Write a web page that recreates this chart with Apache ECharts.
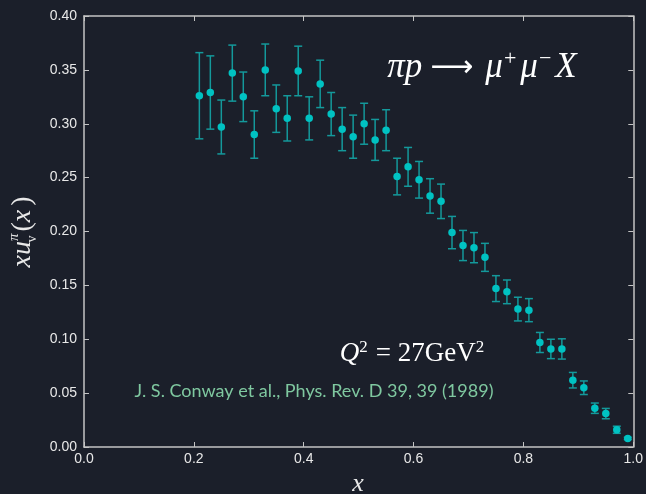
<!DOCTYPE html>
<html>
<head>
<meta charset="utf-8">
<script src="https://cdn.jsdelivr.net/npm/echarts@6/dist/echarts.min.js"></script>
<style>
html,body{margin:0;padding:0;background:#1b1f2a;}
#c{width:646px;height:494px;}
</style>
</head>
<body>
<div id="c"></div>
<script>
var xValues = [0.21,0.23,0.25,0.27,0.29,0.31,0.33,0.35,0.37,0.39,0.41,0.43,0.45,0.47,0.49,0.51,0.53,0.55,0.57,0.59,0.61,0.63,0.65,0.67,0.69,0.71,0.73,0.75,0.77,0.79,0.81,0.83,0.85,0.87,0.89,0.91,0.93,0.95,0.97,0.99];
var yValues = [0.326,0.329,0.297,0.347,0.325,0.290,0.350,0.314,0.305,0.349,0.305,0.337,0.309,0.295,0.288,0.300,0.285,0.294,0.251,0.260,0.248,0.233,0.228,0.199,0.187,0.185,0.176,0.147,0.144,0.128,0.127,0.097,0.091,0.091,0.062,0.055,0.036,0.031,0.016,0.008];
var yErrors = [0.040,0.034,0.025,0.026,0.023,0.022,0.024,0.022,0.021,0.023,0.020,0.022,0.020,0.020,0.020,0.019,0.019,0.019,0.017,0.018,0.017,0.016,0.016,0.015,0.014,0.014,0.013,0.012,0.011,0.011,0.0107,0.0093,0.009,0.0094,0.0072,0.0063,0.0048,0.0048,0.0033,0.001];
var xTicks = [0.0,0.2,0.4,0.6,0.8,1.0];
var yTicks = [0.00,0.05,0.10,0.15,0.20,0.25,0.30,0.35,0.40];

var points = xValues.map(function(x,i){return [x,yValues[i]];});
var errData = xValues.map(function(x,i){return [x,yValues[i]-yErrors[i],yValues[i]+yErrors[i]];});

var chart = echarts.init(document.getElementById('c'));
var axisCol = '#c4c4c4';
var labelCol = '#e8e8e8';
var serif = '"Liberation Serif", "DejaVu Serif", serif';
function baseAxis(extra){
  var a = {
    axisLine:{show:true,onZero:false,lineStyle:{color:axisCol,width:1.5}},
    axisTick:{show:true,inside:true,length:5,lineStyle:{color:axisCol,width:1}},
    splitLine:{show:false},
    axisLabel:{show:false}
  };
  for (var k in extra) a[k]=extra[k];
  return a;
}
var tickFont = '"Liberation Sans", Arial, sans-serif';
var option = {
  backgroundColor:'#1b1f2a',
  animation:false,
  grid:{left:84,right:9,top:16,bottom:47,containLabel:false},
  xAxis:[
    baseAxis({type:'value',min:0,max:1,interval:0.2,position:'bottom',
      axisLabel:{show:true,color:labelCol,fontSize:14,fontFamily:tickFont,margin:5,
        formatter:function(v){return v.toFixed(1);}}}),
    baseAxis({type:'value',min:0,max:1,interval:0.2,position:'top'})
  ],
  yAxis:[
    baseAxis({type:'value',min:0,max:0.4,interval:0.05,position:'left',
      axisLabel:{show:true,color:labelCol,fontSize:14,fontFamily:tickFont,margin:7,
        formatter:function(v){return v.toFixed(2);}}}),
    baseAxis({type:'value',min:0,max:0.4,interval:0.05,position:'right'})
  ],
  series:[
    {
      type:'custom',
      xAxisIndex:0,yAxisIndex:0,
      data:errData,
      renderItem:function(params,api){
        var x=api.value(0), lo=api.value(1), hi=api.value(2);
        var pLo=api.coord([x,lo]), pHi=api.coord([x,hi]);
        var cap=4;
        var st={stroke:'#14999b',lineWidth:1.5};
        return {type:'group',children:[
          {type:'line',shape:{x1:pLo[0],y1:pLo[1],x2:pHi[0],y2:pHi[1]},style:st},
          {type:'line',shape:{x1:pLo[0]-cap,y1:pLo[1],x2:pLo[0]+cap,y2:pLo[1]},style:st},
          {type:'line',shape:{x1:pHi[0]-cap,y1:pHi[1],x2:pHi[0]+cap,y2:pHi[1]},style:st}
        ]};
      },
      z:2
    },
    {
      type:'scatter',
      xAxisIndex:0,yAxisIndex:0,
      data:points,
      symbol:'circle',
      symbolSize:7.5,
      itemStyle:{color:'#00c2c2',opacity:1},
      z:3
    }
  ],
  graphic:[
    {
      type:'text',
      style:{
        x:482,y:68,align:'center',verticalAlign:'middle',
        text:'{i|πp}{a|⟶}{i|μ}{s|+}{i|μ}{s|−}{i|X}',
        rich:{
          i:{fontFamily:serif,fontStyle:'italic',fontSize:35,fill:'#ffffff',lineHeight:40},
          a:{fontFamily:'"DejaVu Sans", sans-serif',fontSize:30,fill:'#ffffff',lineHeight:40,padding:[0,12,0,8]},
          s:{fontFamily:serif,fontSize:22,fill:'#ffffff',verticalAlign:'top',lineHeight:22,padding:[0,4,0,1]}
        }
      }
    },
    {
      type:'text',
      style:{
        x:412,y:354,align:'center',verticalAlign:'middle',
        text:'{i|Q}{s|2}{n|= 27GeV}{s|2}',
        rich:{
          i:{fontFamily:serif,fontStyle:'italic',fontSize:27,fill:'#ffffff',lineHeight:30},
          n:{fontFamily:serif,fontSize:27,fill:'#ffffff',lineHeight:30,padding:[0,0,0,8]},
          s:{fontFamily:serif,fontSize:17,fill:'#ffffff',verticalAlign:'top',lineHeight:17}
        }
      }
    },
    {
      type:'text',
      style:{
        x:314,y:391,align:'center',verticalAlign:'middle',
        text:'J. S. Conway et al., Phys. Rev. D 39, 39 (1989)',
        font:'18px Lato, "Open Sans", sans-serif',
        fill:'#7fc8a0'
      }
    },
    {
      type:'text',
      style:{
        x:358,y:484,align:'center',verticalAlign:'middle',
        text:'x',
        font:'italic 26px '+serif,
        fill:'#e8e8e8'
      }
    },
    {
      type:'text',
      x:23,y:232,rotation:Math.PI/2,
      style:{
        x:0,y:0,align:'center',verticalAlign:'middle',
        text:'{i|xu}{s|π}{b|v}{n|(}{i|x}{n|)}',
        rich:{
          i:{fontFamily:serif,fontStyle:'italic',fontSize:28,fill:'#e8e8e8',lineHeight:32},
          n:{fontFamily:serif,fontSize:28,fill:'#e8e8e8',lineHeight:32,padding:[0,0,0,4]},
          s:{fontFamily:serif,fontStyle:'italic',fontSize:15,fill:'#e8e8e8',verticalAlign:'top',lineHeight:15},
          b:{fontFamily:serif,fontSize:14,fill:'#e8e8e8',verticalAlign:'bottom',lineHeight:14,padding:[0,0,0,-9]}
        }
      }
    }
  ]
};
chart.setOption(option);
</script>
</body>
</html>
